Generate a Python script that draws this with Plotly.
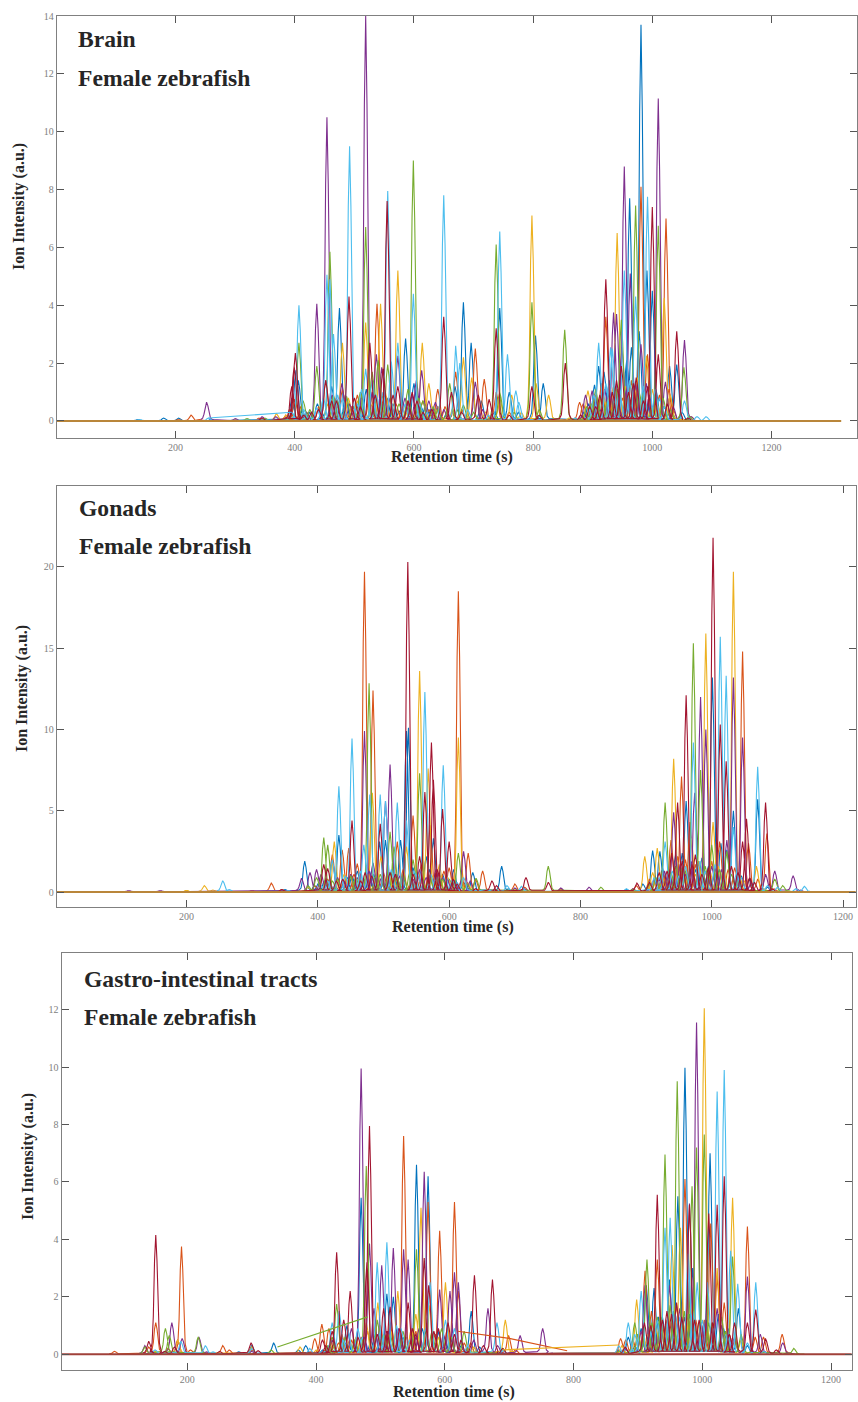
import plotly.graph_objects as go

WIDTH, HEIGHT = 858, 1402
TOP_MARGIN = 8
COLOURS = ["#0072BD", "#D95319", "#EDB120", "#7E2F8E", "#77AC30", "#4DBEEE", "#A2142F"]
XTICKS = [200, 400, 600, 800, 1000, 1200]

# (retention time, apex intensity), one list per line colour
BRAIN_BLUE = [(137,.05),(180,.1),(205,.1),(260,.06),(395,.8),(402,1.75),(406,1.4),(412,.4),(445,.3),(462,1.2),(475,3.9),(498,.5),(510,.4),(530,.9),(545,.7),(565,.6),(575,.35),(586,2.85),(600,1.3),(612,.5),(628,.4),(640,.5),(655,.3),(669,1.2),(683,4.1),(696,2.7),(713,.7),(735,.3),(744,3.9),(760,1.0),(775,.3),(804,2.95),(817,1.3),(885,.3),(903,1.25),(910,1.9),(919,1.7),(930,.5),(945,.9),(957,2.1),(962,7.7),(965,2.55),(972,1.2),(978,3.1),(981,13.7),(991,5.2),(1000,4.5),(1012,.8),(1020,.5),(1029,1.9),(1041,1.95),(1050,.3)]
BRAIN_ORANGE = [(205,.05),(226,.2),(240,.05),(340,.1),(385,.2),(392,.4),(400,.75),(415,.2),(440,.5),(452,1.4),(466,.8),(480,1.1),(495,.5),(512,.4),(526,1.2),(538,4.05),(552,.9),(570,.6),(590,.7),(607,.5),(625,.4),(640,1.1),(652,.5),(670,1.7),(680,.4),(703,2.5),(718,1.45),(738,1.0),(760,.3),(878,.65),(884,.6),(905,.9),(915,1.3),(922,3.6),(935,1.2),(950,.8),(965,1.4),(981,8.1),(992,2.3),(1005,.7),(1023,7),(1028,1.1),(1035,.4)]
BRAIN_YELLOW = [(300,.05),(369,.25),(385,.2),(430,.1),(480,2.7),(505,.7),(519,3.4),(530,.6),(544,4.05),(560,.8),(573,5.2),(590,.4),(614,2.7),(625,1.3),(640,.5),(665,.4),(683,2.2),(697,1.5),(720,.3),(744,.8),(764,.9),(780,.3),(798,7.1),(805,1.3),(826,.9),(860,.1),(892,1.05),(910,.5),(925,.8),(941,6.5),(955,1.2),(975,1.5),(990,2.25),(1008,.6),(1020,4.25),(1030,.9),(1065,.15)]
BRAIN_PURPLE = [(252,.65),(300,.08),(345,.15),(368,.15),(385,.12),(410,.2),(437,4.05),(454,10.5),(463,.9),(479,1.3),(492,.6),(505,.5),(519,14),(537,2.3),(546,1.85),(560,.8),(573,2.25),(590,.6),(604,1.4),(613,1.75),(625,.7),(636,.65),(650,.4),(703,1.35),(715,.4),(870,.1),(888,.9),(899,1.05),(912,.4),(935,3.75),(940,3.7),(949,2.55),(953,8.8),(963,5.1),(972,1.3),(981,2.65),(995,.9),(1010,11.15),(1022,1.35),(1035,.5),(1054,2.8),(1065,.15)]
BRAIN_GREEN = [(320,.08),(350,.1),(407,2.7),(414,.7),(437,1.9),(459,5.85),(472,.7),(487,.85),(498,.5),(519,6.7),(530,1.7),(540,2.1),(556,1.95),(575,.6),(590,1.1),(599,9),(615,.7),(640,.4),(660,1.3),(672,.4),(683,.55),(700,.3),(738,6.1),(744,1.0),(768,.3),(798,4.1),(810,.4),(853,3.15),(890,.5),(905,1.1),(925,.7),(948,3.5),(960,.9),(972,7.45),(985,1.0),(1000,.5),(1010,6.75),(1030,.4),(1053,1.85),(1062,.15)]
BRAIN_LIGHTBLUE = [(140,.05),(255,.1),(395,.3),(407,4),(425,.15),(437,.45),(454,5.05),(459,4.9),(465,3),(480,.8),(492,9.5),(505,.6),(519,1.8),(530,1.4),(537,.9),(556,7.95),(562,2.05),(573,2.7),(585,.6),(599,4.4),(622,.3),(650,7.8),(670,2.6),(677,2.0),(690,.4),(725,.2),(744,6.55),(757,2.3),(771,1.05),(776,.65),(870,.1),(895,.4),(910,2.7),(930,2.55),(933,2.5),(945,1.1),(953,5.2),(972,4.3),(992,7.75),(1005,1.1),(1020,.5),(1054,.7),(1075,.15),(1090,.15),(1097,.02)]
BRAIN_RED = [(345,.1),(395,1.2),(399,1.9),(401,2.35),(415,.2),(440,.4),(452,1.4),(470,.7),(491,4.3),(510,.5),(526,2.7),(548,1.8),(555,7.6),(573,1.2),(590,.7),(597,1.0),(615,.3),(630,.4),(650,3.6),(663,1.0),(680,.3),(708,.9),(726,.75),(738,3.2),(760,.2),(798,1.2),(810,.2),(854,2),(880,.2),(905,.5),(922,4.9),(933,1.0),(948,1.9),(960,1.0),(973,1.5),(985,.7),(1000,7.4),(1010,2.3),(1025,.6),(1041,3.1),(1060,.1)]
BRAIN_BASE_TIME = [1, 1317]
BRAIN_BASE_VALUE = [0, 0]

GONADS_BLUE = [(350,.15),(380,1.9),(395,.4),(410,.7),(422,2.0),(432,3.5),(445,.9),(460,1.3),(470,.8),(485,1.1),(494,3.1),(503,3.2),(515,1.5),(526,3.2),(535,9.9),(538,10.1),(552,1.1),(565,2.2),(576,3.3),(590,1.1),(607,1.4),(622,.6),(636,1.2),(680,1.6),(690,.2),(870,.15),(895,.5),(910,2.55),(921,2.5),(935,1.1),(945,2.3),(955,2.4),(961,5.6),(975,1.4),(985,2.1),(1001,13.2),(1014,3.0),(1023,2.6),(1033,5.0),(1045,1.0),(1057,.8),(1070,5.7),(1085,.3)]
GONADS_ORANGE = [(300,.1),(329,.55),(345,.15),(395,.4),(422,2.3),(437,2.6),(447,2.7),(460,1.75),(471,19.7),(484,12.4),(500,1.2),(512,.9),(521,3.1),(545,4.7),(558,1.8),(571,4.1),(585,1.2),(600,1.5),(614,18.5),(629,2.4),(640,.8),(651,1.3),(700,.5),(715,.3),(770,.2),(885,.4),(905,.8),(925,1.3),(938,3.2),(948,2.2),(954,7.1),(967,4.3),(980,1.8),(990,1.3),(1012,3.1),(1025,1.4),(1047,14.8),(1056,3),(1070,.8),(1084,3.6),(1095,.2)]
GONADS_YELLOW = [(200,.12),(227,.4),(240,.12),(385,.3),(425,3.1),(440,1.1),(465,.8),(483,6.1),(496,2.2),(508,1.2),(520,.8),(535,2.8),(555,13.6),(568,7.6),(585,1.7),(598,.9),(614,9.5),(628,.6),(700,.2),(880,.2),(898,2.2),(910,1.2),(917,2.7),(930,.9),(942,8.2),(952,1.3),(969,3.3),(980,1.9),(991,15.9),(1002,4.3),(1018,1.5),(1033,19.7),(1050,.7),(1068,1.6),(1080,.2)]
GONADS_PURPLE = [(112,.1),(160,.1),(375,.85),(388,1.2),(398,1.4),(405,1.1),(418,.6),(440,.7),(460,.9),(471,9.9),(484,1.8),(497,.9),(503,5.6),(510,7.85),(525,1.0),(545,.8),(565,.9),(580,1.4),(597,.8),(622,2.5),(632,.7),(700,.25),(715,.2),(770,.25),(813,.3),(880,.2),(912,.8),(928,1.3),(942,4.9),(960,1.1),(974,6.1),(983,12),(991,10),(1005,1.5),(1023,3.2),(1033,13.2),(1047,9.5),(1060,.6),(1082,1.1),(1096,1.3),(1124,1.0),(1135,.12)]
GONADS_GREEN = [(385,.4),(398,.9),(409,3.35),(415,2.9),(430,.8),(450,1.0),(478,12.85),(495,1.1),(510,3.7),(516,2.8),(530,1.1),(545,2.0),(555,7.3),(570,1.0),(590,.8),(614,2.4),(627,.5),(641,.85),(751,1.6),(831,.3),(880,.15),(915,.9),(929,5.5),(945,1.6),(960,1.3),(972,15.3),(983,7.5),(995,1.2),(1000,2.9),(1023,2.5),(1040,.7),(1096,.8),(1108,.4),(1116,.1)]
GONADS_LIGHTBLUE = [(255,.7),(265,.15),(355,.1),(405,.4),(422,2),(432,6.5),(452,9.45),(470,2.9),(479,6),(495,6),(503,5.6),(521,5.5),(535,4.4),(547,1.3),(563,12.3),(580,1.0),(591,7.8),(605,.8),(622,.9),(688,.4),(710,.35),(870,.2),(912,.9),(929,3.1),(950,1.0),(972,9.2),(990,1.3),(1013,15.7),(1022,13.3),(1033,4),(1045,.9),(1070,7.7),(1085,.4),(1100,.3),(1128,.2),(1141,.35),(1152,.02)]
GONADS_RED = [(345,.15),(409,1.7),(415,1.45),(428,.7),(452,4.4),(465,.7),(495,4.2),(510,1.2),(537,20.3),(555,2.2),(563,6.15),(573,9.2),(576,6.9),(590,5.1),(600,3.1),(612,.5),(640,.2),(665,.7),(672,.4),(717,.9),(751,.6),(886,.55),(905,.6),(920,1.2),(939,2.4),(948,5.5),(961,12.1),(975,2.3),(985,1.1),(1002,21.8),(1013,10.3),(1022,8.05),(1040,1.2),(1047,3.1),(1053,4.5),(1065,.6),(1082,5.5),(1092,.2)]
GONADS_BASE_TIME = [1, 1222]
GONADS_BASE_VALUE = [0, 0]

GI_BLUE = [(130,.05),(280,.08),(300,.3),(334,.4),(372,.15),(384,.3),(410,.15),(440,.6),(448,1.0),(470,5.45),(485,.5),(500,.7),(510,2.1),(520,2),(535,.6),(556,6.6),(574,6.2),(590,.8),(610,.5),(625,.3),(641,1.5),(654,.25),(870,.15),(885,.6),(895,.3),(913,2.4),(925,2.3),(938,1.3),(949,2.6),(962,5.5),(973,9.97),(985,3),(998,1.1),(1012,7),(1025,1.4),(1040,.9),(1056,1.6),(1070,.3)]
GI_ORANGE = [(87,.1),(140,.25),(151,1.1),(170,.2),(185,.5),(191,3.75),(205,.15),(255,.3),(265,.15),(300,.15),(398,.55),(409,1.05),(420,.9),(440,.7),(455,.5),(480,.8),(500,1.0),(515,1.1),(536,7.6),(555,.8),(574,5.3),(592,4.3),(604,.9),(615,5.3),(621,2.2),(640,.4),(699,.65),(710,.15),(873,.55),(881,.5),(900,.7),(911,2.9),(921,1.5),(930,3.3),(945,1.2),(960,1.7),(973,6.1),(990,1.2),(1013,4.55),(1023,2.7),(1034,1.8),(1050,.5),(1070,4.45),(1082,.6),(1095,.6),(1124,.7),(1135,.05)]
GI_YELLOW = [(150,.1),(185,.5),(300,.25),(375,.25),(400,.15),(440,.5),(462,.6),(478,1.1),(496,1.8),(527,2.2),(540,.6),(555,1.4),(563,5.1),(577,1.7),(601,2.5),(625,.4),(645,.25),(694,1.2),(705,.1),(875,.3),(898,1.9),(915,.7),(935,1.3),(953,3.8),(966,4.4),(985,1.8),(1003,12.05),(1023,3),(1047,5.45),(1060,.5),(1075,.1)]
GI_PURPLE = [(134,.3),(145,.1),(176,1.1),(192,.55),(218,.6),(230,.08),(300,.1),(425,.5),(455,.9),(470,9.95),(483,3.85),(490,1.6),(502,3.1),(520,3.7),(536,3.65),(543,3.3),(555,.6),(568,6.35),(592,2.25),(608,2.2),(615,2.85),(621,2.5),(645,.5),(667,1.6),(682,.3),(717,.65),(752,.9),(765,.05),(880,.2),(911,2.4),(925,.9),(949,2.4),(965,1.6),(980,5.25),(991,11.55),(1005,1.2),(1023,1.6),(1040,.8),(1070,2.7),(1090,.7),(1125,.4),(1135,.05)]
GI_GREEN = [(134,.25),(166,.9),(172,.65),(217,.6),(225,.05),(330,.15),(425,.6),(432,1.75),(445,.6),(478,6.55),(495,1.2),(515,.7),(556,3.65),(570,.8),(595,.9),(630,.8),(690,.2),(870,.1),(895,1.1),(914,3.3),(930,1.3),(942,6.95),(950,1.7),(961,9.5),(972,1.5),(984,5.85),(991,7.2),(1003,7.65),(1015,1.1),(1030,1.3),(1047,3.4),(1060,.7),(1142,.2),(1150,.02)]
GI_LIGHTBLUE = [(150,.15),(190,.45),(228,.3),(240,.08),(300,.2),(390,.2),(425,1.1),(436,1.5),(450,.8),(465,.9),(495,3.2),(510,3.9),(525,1.0),(545,.5),(577,2.5),(601,1.2),(615,.9),(635,.3),(681,1.1),(690,.15),(870,.3),(885,1.1),(905,2.2),(920,.8),(942,4.4),(950,4.75),(965,1.3),(978,3.5),(992,2.5),(1008,2.5),(1023,9.15),(1034,9.9),(1044,3.6),(1055,2.45),(1070,.4),(1083,2.5),(1095,.1)]
GI_RED = [(140,.45),(151,4.15),(165,.1),(180,.25),(250,.1),(299,.4),(310,.12),(410,.5),(425,.8),(432,3.55),(443,1.2),(453,2.2),(479,3.2),(483,7.95),(495,.7),(505,1.6),(515,1.65),(530,.9),(543,1.8),(555,.7),(568,3.35),(575,2.4),(590,.9),(605,1.1),(625,.5),(646,2.75),(660,.3),(674,2.6),(690,.2),(880,.25),(910,1.1),(930,5.55),(945,1.5),(960,1.8),(980,5.2),(995,1.2),(1010,4.9),(1023,5.2),(1034,6.2),(1050,1.1),(1070,1.1),(1083,1.55),(1098,.55),(1115,.15)]
GI_BASE_TIME = [1, 1235]
GI_BASE_VALUE = [0, 0]

# Low, overlapping peaks at the foot of the dense clusters, estimated by eye
BRAIN_FOOT_BLUE = [(425,.3),(438,.6),(485,.9),(520,1.1),(555,.8),(620,.6),(893,.6),(925,1.0),(938,1.2),(968,.9),(1006,1.1)]
BRAIN_FOOT_ORANGE = [(410,.5),(472,.5),(505,.9),(545,.8),(580,.5),(615,.7),(896,.5),(928,.8),(942,1.1),(975,1.2),(1012,.9)]
BRAIN_FOOT_YELLOW = [(420,.3),(455,.6),(490,.8),(535,.9),(552,1.0),(605,.6),(902,.7),(918,.9),(935,1.2),(968,1.0),(1000,1.1)]
BRAIN_FOOT_PURPLE = [(420,.3),(470,.8),(512,.9),(530,1.0),(585,.8),(597,.9),(905,.7),(920,1.1),(928,1.4),(958,1.2),(990,1.3)]
BRAIN_FOOT_GREEN = [(425,.4),(465,.9),(510,1.0),(548,.9),(608,.8),(632,.5),(898,.6),(915,.9),(938,1.2),(978,1.0),(1018,.8)]
BRAIN_FOOT_LIGHTBLUE = [(415,.4),(448,.8),(472,.9),(512,1.1),(548,1.0),(610,.6),(902,.9),(922,1.3),(962,1.4),(985,1.2),(1012,.8)]
BRAIN_FOOT_RED = [(428,.3),(462,.7),(500,.8),(535,.9),(565,.9),(605,.7),(895,.5),(912,.9),(940,1.4),(968,1.3),(992,1.2)]

GONADS_FOOT_BLUE = [(400,.5),(452,1.0),(478,1.4),(510,1.2),(545,1.5),(570,1.4),(600,.8),(925,1.5),(950,1.3),(968,1.8),(995,1.6),(1008,1.4),(1040,1.2)]
GONADS_FOOT_ORANGE = [(415,.8),(455,1.1),(490,1.3),(530,1.4),(552,1.1),(592,1.3),(618,.7),(915,.8),(935,1.4),(960,2.0),(975,1.7),(1000,1.9),(1035,1.5)]
GONADS_FOOT_YELLOW = [(412,.6),(450,1.0),(475,1.1),(515,.9),(545,1.2),(575,1.0),(605,.9),(925,.9),(958,1.5),(975,1.1),(997,1.4),(1010,1.6),(1042,1.1)]
GONADS_FOOT_PURPLE = [(430,.9),(450,1.1),(478,1.3),(520,1.1),(555,1.4),(590,.9),(608,.7),(920,.8),(935,1.3),(952,1.7),(968,1.9),(1000,1.6),(1015,1.4)]
GONADS_FOOT_GREEN = [(422,.7),(458,.9),(488,1.0),(520,1.0),(540,1.2),(585,.9),(605,.7),(905,.5),(938,1.2),(955,1.5),(990,1.6),(1012,1.4),(1030,1.1)]
GONADS_FOOT_LIGHTBLUE = [(415,.7),(442,1.0),(465,1.3),(512,1.4),(552,1.2),(572,1.1),(612,.6),(920,.9),(940,1.3),(960,1.6),(982,1.9),(1005,1.7),(1038,1.2)]
GONADS_FOOT_RED = [(438,.8),(472,1.2),(482,1.0),(518,1.1),(545,1.1),(582,1.4),(606,.8),(932,1.3),(955,1.9),(970,1.7),(995,1.5),(1030,1.6),(1058,.9)]

GI_FOOT_BLUE = [(420,.3),(460,.5),(492,.7),(530,.8),(565,.9),(600,.6),(905,.9),(918,1.1),(932,1.3),(955,1.5),(980,1.4),(1005,1.2),(1033,.9)]
GI_FOOT_ORANGE = [(435,.4),(470,.6),(510,.7),(548,.8),(585,.7),(630,.4),(892,.5),(925,.9),(938,1.0),(952,1.1),(982,1.3),(1003,1.2),(1042,.7)]
GI_FOOT_YELLOW = [(425,.3),(452,.5),(488,.7),(518,.8),(548,.9),(590,.6),(908,.6),(928,.9),(945,1.0),(975,1.2),(995,1.1),(1015,1.0),(1038,.7)]
GI_FOOT_PURPLE = [(445,.4),(475,.6),(512,.8),(528,.9),(560,.9),(598,.7),(905,.8),(935,1.2),(958,1.4),(972,1.3),(998,1.1),(1030,1.0),(1050,.6)]
GI_FOOT_GREEN = [(418,.3),(460,.5),(505,.7),(535,.8),(580,.8),(610,.6),(900,.7),(922,1.1),(935,1.3),(955,1.2),(978,1.4),(1010,1.1),(1036,.8)]
GI_FOOT_LIGHTBLUE = [(442,.5),(472,.6),(500,.8),(532,.9),(570,.9),(625,.5),(895,.7),(930,1.2),(958,1.4),(985,1.5),(1000,1.2),(1018,1.0),(1040,.8)]
GI_FOOT_RED = [(415,.3),(465,.6),(510,.8),(550,.9),(583,.8),(615,.7),(920,1.0),(938,1.2),(952,1.4),(968,1.3),(988,1.2),(1016,1.1),(1042,.7)]

# Long low segments that run across the gaps between peaks
GI_GREEN_DRIFT_TIME = [340, 480]
GI_GREEN_DRIFT_VALUE = [.25, 1.3]
GI_ORANGE_DRIFT_TIME = [620, 700, 790]
GI_ORANGE_DRIFT_VALUE = [.8, .55, .12]
GI_YELLOW_DRIFT_TIME = [690, 870]
GI_YELLOW_DRIFT_VALUE = [.15, .32]
BRAIN_LIGHTBLUE_DRIFT_TIME = [255, 395]
BRAIN_LIGHTBLUE_DRIFT_VALUE = [.1, .3]

PEAK_DX = [-9, -6, -4, -2, 0, 2, 4, 6, 9]
PEAK_SHAPE = [0, .07, .3, .78, 1, .78, .3, .07, 0]

PANELS = [
    dict(series=[BRAIN_BLUE, BRAIN_ORANGE, BRAIN_YELLOW, BRAIN_PURPLE, BRAIN_GREEN, BRAIN_LIGHTBLUE, BRAIN_RED],
         foot=[BRAIN_FOOT_BLUE, BRAIN_FOOT_ORANGE, BRAIN_FOOT_YELLOW, BRAIN_FOOT_PURPLE, BRAIN_FOOT_GREEN,
               BRAIN_FOOT_LIGHTBLUE, BRAIN_FOOT_RED],
         base=.08, width=1.1, base_time=BRAIN_BASE_TIME, base_value=BRAIN_BASE_VALUE, base_colour="#B9863A",
         drift=[(BRAIN_LIGHTBLUE_DRIFT_TIME, BRAIN_LIGHTBLUE_DRIFT_VALUE, 5)],
         box=(57, 857, 16, 438), xr=[1, 1343.5], yr=[-.59, 14], yt=[0, 2, 4, 6, 8, 10, 12, 14],
         labels=["Brain", "Female zebrafish"], text_x=76, text_y=[39, 78],
         xtitle=(452, 457), ytitle=(19, 207)),
    dict(series=[GONADS_BLUE, GONADS_ORANGE, GONADS_YELLOW, GONADS_PURPLE, GONADS_GREEN, GONADS_LIGHTBLUE, GONADS_RED],
         foot=[GONADS_FOOT_BLUE, GONADS_FOOT_ORANGE, GONADS_FOOT_YELLOW, GONADS_FOOT_PURPLE, GONADS_FOOT_GREEN,
               GONADS_FOOT_LIGHTBLUE, GONADS_FOOT_RED],
         base=.12, width=.95, base_time=GONADS_BASE_TIME, base_value=GONADS_BASE_VALUE, base_colour="#B9863A",
         drift=[],
         box=(57, 855.7, 485.7, 907.3), xr=[2.6, 1219.3], yr=[-.94, 25], yt=[0, 5, 10, 15, 20],
         labels=["Gonads", "Female zebrafish"], text_x=77, text_y=[508, 546],
         xtitle=(453, 927), ytitle=(22, 689)),
    dict(series=[GI_BLUE, GI_ORANGE, GI_YELLOW, GI_PURPLE, GI_GREEN, GI_LIGHTBLUE, GI_RED],
         foot=[GI_FOOT_BLUE, GI_FOOT_ORANGE, GI_FOOT_YELLOW, GI_FOOT_PURPLE, GI_FOOT_GREEN,
               GI_FOOT_LIGHTBLUE, GI_FOOT_RED],
         base=.1, width=.95, base_time=GI_BASE_TIME, base_value=GI_BASE_VALUE, base_colour="#A0413A",
         drift=[(GI_GREEN_DRIFT_TIME, GI_GREEN_DRIFT_VALUE, 4), (GI_ORANGE_DRIFT_TIME, GI_ORANGE_DRIFT_VALUE, 1),
                (GI_YELLOW_DRIFT_TIME, GI_YELLOW_DRIFT_VALUE, 2)],
         box=(61.7, 851.7, 953.3, 1369.7), xr=[4.9, 1232], yr=[-.54, 13.96], yt=[0, 2, 4, 6, 8, 10, 12],
         labels=["Gastro-intestinal tracts", "Female zebrafish"], text_x=82, text_y=[979, 1017],
         xtitle=(454.5, 1392), ytitle=(28, 1157)),
]


def outline(peaks, base, width):
    xs, ys = [], []
    for rt, h in sorted(peaks):
        for dx, s in zip(PEAK_DX, PEAK_SHAPE):
            xs.append(rt + dx * width)
            ys.append(base * min(h, 1) + (h - base * min(h, 1)) * s)
    return xs, ys


def paper_y(py):
    return 1 - (py - TOP_MARGIN) / (HEIGHT - TOP_MARGIN)


fig = go.Figure()
layout = {}
FONT = "Liberation Serif"
INK = "#262626"
for i, p in enumerate(PANELS, start=1):
    sfx = "" if i == 1 else str(i)
    for colour, peaks, foot in zip(COLOURS, p["series"], p["foot"]):
        x, y = outline(peaks + foot, p["base"], p["width"])
        fig.add_trace(go.Scatter(x=x, y=y, mode="lines", xaxis="x" + sfx, yaxis="y" + sfx,
                                 line=dict(color=colour, width=1.1), showlegend=False, hoverinfo="skip"))
    for dt, dv, c in p["drift"]:
        fig.add_trace(go.Scatter(x=dt, y=dv, mode="lines", xaxis="x" + sfx, yaxis="y" + sfx,
                                 line=dict(color=COLOURS[c], width=1.1), showlegend=False, hoverinfo="skip"))
    fig.add_trace(go.Scatter(x=p["base_time"], y=p["base_value"], mode="lines", xaxis="x" + sfx, yaxis="y" + sfx,
                             line=dict(color=p["base_colour"], width=2), showlegend=False, hoverinfo="skip"))
    l, r, t, b = p["box"]
    tickfont = dict(family=FONT, size=10, color="#808080")
    titlefont = dict(family=FONT, size=16, color=INK, weight="bold")
    layout["xaxis" + sfx] = dict(domain=[l / WIDTH, r / WIDTH], range=p["xr"], anchor="y" + sfx, tickvals=XTICKS,
                                 ticks="inside", ticklen=7, tickwidth=1, tickcolor="#555555", showline=True,
                                 linecolor="#808080", linewidth=1.3, mirror="ticks", showgrid=False, zeroline=False,
                                 tickfont=tickfont)
    layout["yaxis" + sfx] = dict(domain=[paper_y(b), paper_y(t)], range=p["yr"], anchor="x" + sfx,
                                 tickvals=p["yt"], ticks="inside", ticklen=7, tickwidth=1, tickcolor="#555555",
                                 showline=True, linecolor="#808080", linewidth=1.3, mirror="ticks", showgrid=False,
                                 zeroline=False, tickfont=tickfont)
    for label, ty in zip(p["labels"], p["text_y"]):
        fig.add_annotation(text=label, xref="paper", yref="paper", x=p["text_x"] / WIDTH, y=paper_y(ty),
                           xanchor="left", yanchor="middle", showarrow=False,
                           font=dict(family=FONT, size=23.6, color=INK, weight="bold"))
    fig.add_annotation(text="Retention time (s)", xref="paper", yref="paper", x=p["xtitle"][0] / WIDTH,
                       y=paper_y(p["xtitle"][1]), xanchor="center", yanchor="middle", showarrow=False, font=titlefont)
    fig.add_annotation(text="Ion Intensity (a.u.)", xref="paper", yref="paper", x=p["ytitle"][0] / WIDTH,
                       y=paper_y(p["ytitle"][1]), xanchor="center", yanchor="middle", textangle=-90,
                       showarrow=False, font=titlefont)

fig.update_layout(width=WIDTH, height=HEIGHT, autosize=False, margin=dict(l=0, r=0, t=TOP_MARGIN, b=0),
                  paper_bgcolor="white", plot_bgcolor="white", **layout)
fig.write_html("out.html", config=dict(displayModeBar=False),
               post_script="document.body.style.margin='0';document.body.style.overflow='hidden';")
